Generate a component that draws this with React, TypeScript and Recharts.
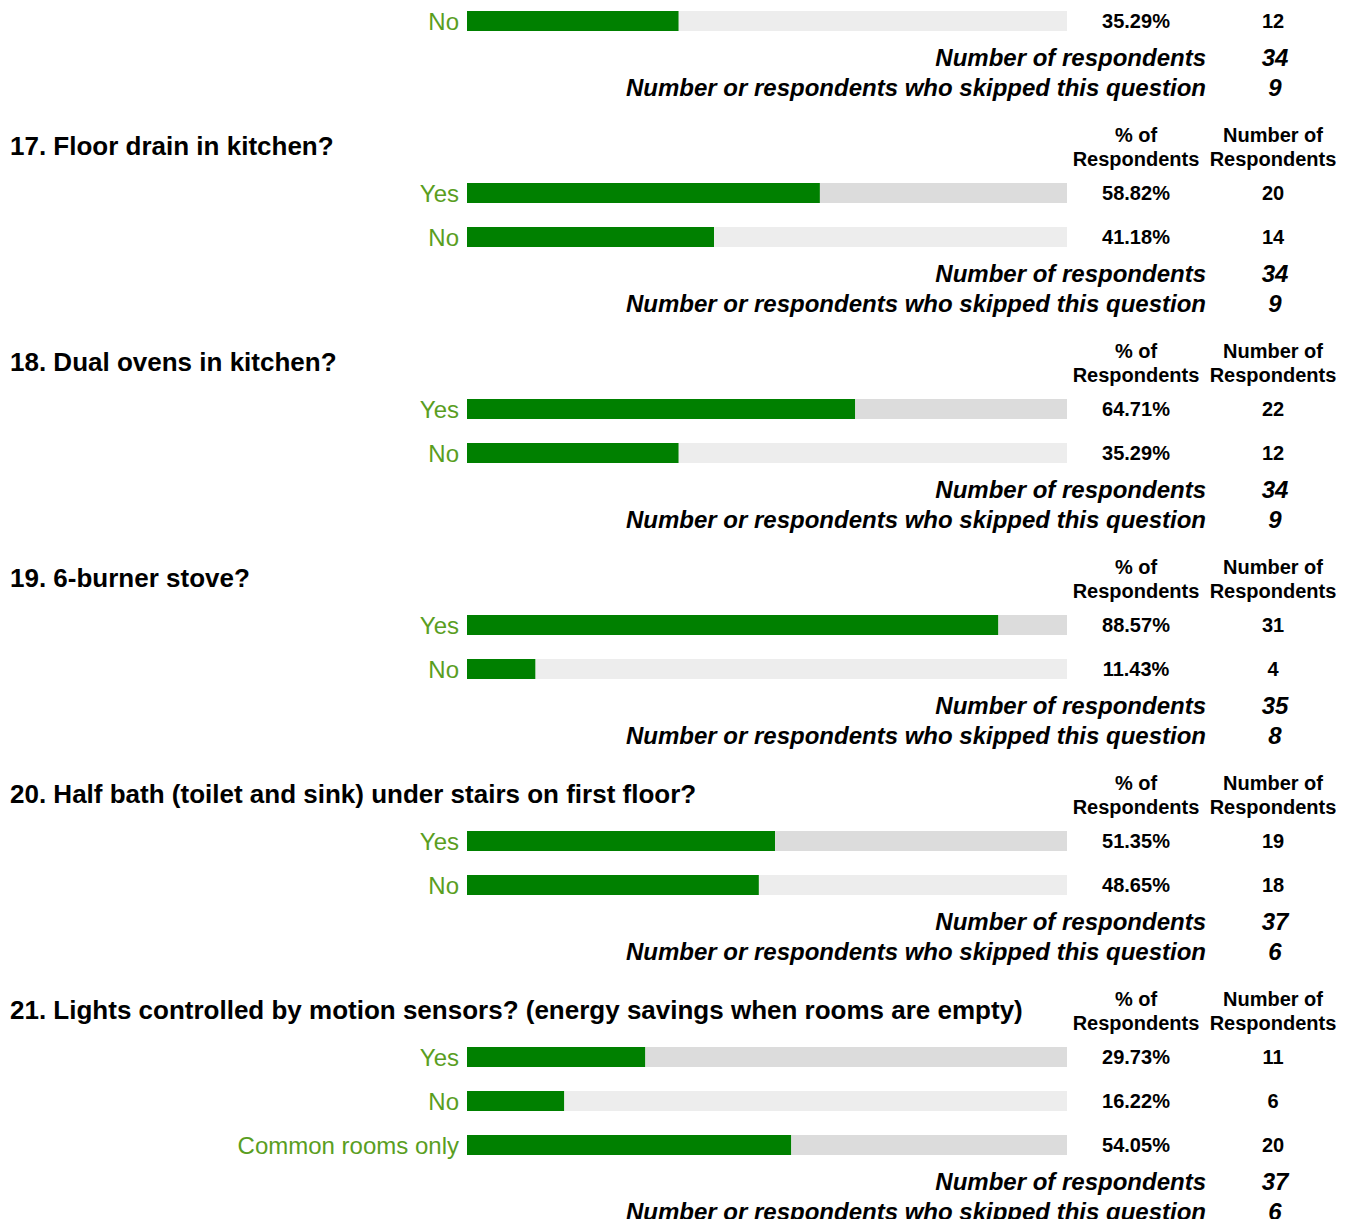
import React from "react";
import { BarChart, Bar, XAxis, YAxis } from "recharts";

const titles = [
  "",
  "17. Floor drain in kitchen?",
  "18. Dual ovens in kitchen?",
  "19. 6-burner stove?",
  "20. Half bath (toilet and sink) under stairs on first floor?",
  "21. Lights controlled by motion sensors? (energy savings when rooms are empty)",
];
const optionLabels = [
  ["No"],
  ["Yes", "No"],
  ["Yes", "No"],
  ["Yes", "No"],
  ["Yes", "No"],
  ["Yes", "No", "Common rooms only"],
];
const percents = [
  [35.29],
  [58.82, 41.18],
  [64.71, 35.29],
  [88.57, 11.43],
  [51.35, 48.65],
  [29.73, 16.22, 54.05],
];
const counts = [[12], [20, 14], [22, 12], [31, 4], [19, 18], [11, 6, 20]];
const respondents = [34, 34, 34, 35, 37, 37];
const skipped = [9, 9, 9, 8, 6, 6];

const FONT = '"Liberation Sans", Arial, sans-serif';
const GREEN = "#008000";
const LABEL_GREEN = "#5A9E1F";

const GreenTick = (props: any) => {
  const { x, y, payload } = props;
  return (
    <text x={x} y={y} textAnchor="end" dominantBaseline="central" fontSize={24} fill={LABEL_GREEN} fontFamily={FONT}>
      {payload.value}
    </text>
  );
};

// grey track + the two value columns on the right
const RestShape = (props: any) => {
  const { x, y, width, height, payload } = props;
  const end = x + width;
  return (
    <g>
      <rect x={x} y={y} width={width} height={height} fill={payload.row % 2 === 0 ? "#DCDCDC" : "#EDEDED"} />
      <text x={end + 69} y={y + height / 2} textAnchor="middle" dominantBaseline="central" fontSize={20} fontWeight="bold" fontFamily={FONT} fill="#000">
        {payload.pct.toFixed(2)}%
      </text>
      <text x={end + 206} y={y + height / 2} textAnchor="middle" dominantBaseline="central" fontSize={20} fontWeight="bold" fontFamily={FONT} fill="#000">
        {payload.count}
      </text>
    </g>
  );
};

function Totals({ qi }: { qi: number }) {
  const lbl: React.CSSProperties = {
    position: "absolute",
    right: 143,
    lineHeight: "30px",
    fontSize: 24,
    fontWeight: "bold",
    fontStyle: "italic",
    whiteSpace: "nowrap",
  };
  const num: React.CSSProperties = { ...lbl, right: undefined, left: 1235, width: 80, textAlign: "center" };
  return (
    <div style={{ position: "relative", height: 60 }}>
      <div style={{ ...lbl, top: 0 }}>Number of respondents</div>
      <div style={{ ...num, top: 0 }}>{respondents[qi]}</div>
      <div style={{ ...lbl, top: 30 }}>Number or respondents who skipped this question</div>
      <div style={{ ...num, top: 30 }}>{skipped[qi]}</div>
    </div>
  );
}

function Header({ qi }: { qi: number }) {
  const col: React.CSSProperties = {
    position: "absolute",
    top: 1,
    width: 132,
    textAlign: "center",
    fontSize: 20,
    fontWeight: "bold",
    lineHeight: "24px",
    whiteSpace: "nowrap",
  };
  return (
    <div style={{ position: "relative", height: 49 }}>
      <div style={{ position: "absolute", left: 10, top: 0, lineHeight: "48px", fontSize: 26, fontWeight: "bold", whiteSpace: "nowrap" }}>
        {titles[qi]}
      </div>
      <div style={{ ...col, left: 1070 }}>
        % of
        <br />
        Respondents
      </div>
      <div style={{ ...col, left: 1207 }}>
        Number of
        <br />
        Respondents
      </div>
    </div>
  );
}

function Section({ qi }: { qi: number }) {
  const offset = qi === 0 ? 1 : 0;
  const data = optionLabels[qi].map((label, i) => ({
    label,
    pct: percents[qi][i],
    rest: 100 - percents[qi][i],
    count: counts[qi][i],
    row: i + offset,
  }));
  return (
    <div style={{ marginTop: qi === 0 ? -1 : 19 }}>
      {qi > 0 && <Header qi={qi} />}
      <BarChart
        width={1349}
        height={44 * data.length}
        data={data}
        layout="vertical"
        margin={{ top: 0, right: 282, bottom: 0, left: 0 }}
        barSize={20}
      >
        <XAxis type="number" domain={[0, 100]} hide />
        <YAxis type="category" dataKey="label" width={467} axisLine={false} tickLine={false} tick={<GreenTick />} />
        <Bar dataKey="pct" stackId="s" fill={GREEN} isAnimationActive={false} />
        <Bar dataKey="rest" stackId="s" shape={<RestShape />} isAnimationActive={false} />
      </BarChart>
      <Totals qi={qi} />
    </div>
  );
}

export default function App() {
  return (
    <div style={{ margin: -8, display: "flow-root", width: 1349, fontFamily: FONT, color: "#000", background: "#fff" }}>
      {titles.map((_, qi) => (
        <Section key={qi} qi={qi} />
      ))}
    </div>
  );
}
